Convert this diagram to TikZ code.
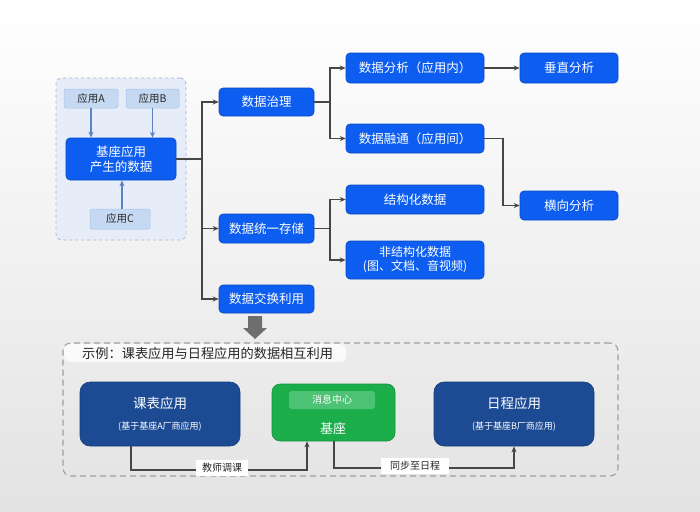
\documentclass[tikz,border=0pt]{standalone}
\usepackage{fontspec}
\setmainfont{Noto Sans CJK SC}
\usetikzlibrary{arrows.meta}
\definecolor{nodeblue}{HTML}{0D5EF0}
\definecolor{nodeblueb}{HTML}{0A48C0}
\definecolor{darkblue}{HTML}{1C4B94}
\definecolor{darkblueb}{HTML}{163C78}
\definecolor{appgreen}{HTML}{1BAE4B}
\definecolor{appgreenb}{HTML}{16903D}
\definecolor{msggreen}{HTML}{4EC274}
\definecolor{appblue}{HTML}{C6D9F2}
\definecolor{appblueb}{HTML}{A8C2E8}
\definecolor{contfill}{HTML}{E6EDF8}
\definecolor{contline}{HTML}{A8B6CE}
\definecolor{smallarrow}{HTML}{5C82C4}
\definecolor{linegray}{HTML}{464646}
\definecolor{bigarrow}{HTML}{6E6E6E}
\begin{document}
\begin{tikzpicture}[x=1pt,y=-1pt,
  bbox/.style={draw=nodeblueb,line width=0.6pt,fill=nodeblue,rounded corners=4pt,text=white,
    font=\fontsize{12.5}{15}\selectfont,inner sep=0pt,align=center},
  appbox/.style={draw=appblueb,line width=0.5pt,fill=appblue,rounded corners=2pt,text=black!85,
    font=\fontsize{10.5}{12}\selectfont,inner sep=0pt},
  container/.style={draw=contline,dashed,line width=0.8pt,fill=contfill,rounded corners=6pt},
  dashbox/.style={draw=gray!75,dash pattern=on 6pt off 4pt,line width=1.1pt,rounded corners=8pt},
  dbox/.style={draw=darkblueb,line width=0.6pt,fill=darkblue,rounded corners=10pt,text=white,inner sep=0pt,align=center},
  gbox/.style={draw=appgreenb,line width=0.6pt,fill=appgreen,rounded corners=8pt,inner sep=0pt},
  conn/.style={draw=linegray,line width=1.6pt},
  arr/.style={conn,-{Stealth[length=6pt,width=5pt]}},
  sarr/.style={draw=smallarrow,line width=1.2pt,-{Stealth[length=6pt,width=5pt]}},
  lab/.style={fill=white,text=black!85,font=\fontsize{10}{12}\selectfont,inner xsep=6pt,inner ysep=3pt}
]
\shade[top color=white,bottom color=black!11] (0,0) rectangle (700,511);
\useasboundingbox (0,0) rectangle (700,511);

% left container
\node[container,minimum width=130,minimum height=162] (lc) at (121,159) {};
\node[appbox,minimum width=54,minimum height=19] (appA) at (91,98.5) {应用A};
\node[appbox,minimum width=53,minimum height=19] (appB) at (152.5,98.5) {应用B};
\node[bbox,minimum width=110,minimum height=42,font=\fontsize{12.5}{15}\selectfont] (core) at (121,159) {基座应用\\产生的数据};
\node[appbox,minimum width=60,minimum height=20] (appC) at (120,219) {应用C};
\draw[sarr] (appA.south) -- (appA.south |- core.north);
\draw[sarr] (appB.south) -- (appB.south |- core.north);
\draw[sarr] (appC.north -| 122,0) -- (core.south -| 122,0);

% level 1
\node[bbox,minimum width=95,minimum height=28] (gov) at (266.5,102) {数据治理};
\node[bbox,minimum width=95,minimum height=29] (sto) at (266.5,228.5) {数据统一存储};
\node[bbox,minimum width=95,minimum height=28] (exc) at (266.5,299) {数据交换利用};

% level 2
\node[bbox,minimum width=138,minimum height=30] (da) at (415,68) {数据分析（应用内）};
\node[bbox,minimum width=138,minimum height=29] (dr) at (415,138.5) {数据融通（应用间）};
\node[bbox,minimum width=138,minimum height=29] (st) at (415,199.5) {结构化数据};
\node[bbox,minimum width=138,minimum height=38,font=\fontsize{12}{14}\selectfont] (un) at (415,260) {非结构化数据\\(图、文档、音视频)};

% level 3
\node[bbox,minimum width=98,minimum height=30] (vz) at (569,68) {垂直分析};
\node[bbox,minimum width=98,minimum height=29] (hz) at (569,205.5) {横向分析};

% connectors
\coordinate (t1) at (202,0);
\coordinate (t2) at (330,0);
\coordinate (t3) at (503,0);
\draw[conn] (core.east) -- (t1 |- core.east);
\draw[arr] (t1 |- core.east) |- (gov.west);
\draw[arr] (t1 |- core.east) |- (sto.west);
\draw[arr] (t1 |- core.east) |- (exc.west);
\draw[conn] (gov.east) -- (t2 |- gov.east);
\draw[arr] (t2 |- gov.east) |- (da.west);
\draw[arr] (t2 |- gov.east) |- (dr.west);
\draw[conn] (sto.east) -- (t2 |- sto.east);
\draw[arr] (t2 |- sto.east) |- (st.west);
\draw[arr] (t2 |- sto.east) |- (un.west);
\draw[arr] (da.east) -- (vz.west);
\draw[arr] (dr.east) -- (t3 |- dr.east) |- (hz.west);

% big arrow
\fill[bigarrow] (248,316) -- (262,316) -- (262,328) -- (267,328) -- (255,339) -- (243,328) -- (248,328) -- cycle;

% bottom container
\node[dashbox,minimum width=555,minimum height=133] (bc) at (340.5,409.5) {};
\fill[white,opacity=0.75,rounded corners=6pt] (64,344) rectangle (346,362);
\node[anchor=west,inner sep=0pt,font=\fontsize{13.2}{15}\selectfont,text=black!85] (title) at (82,353) {示例：课表应用与日程应用的数据相互利用};

\node[dbox,minimum width=160,minimum height=64] (kb) at (160,414)
  {{\fontsize{13.5}{15}\selectfont 课表应用}\\[9pt]{\fontsize{9}{10}\selectfont (基于基座A厂商应用)}};
\node[gbox,minimum width=123,minimum height=57] (jz) at (333.5,412.5) {};
\node[fill=msggreen,rounded corners=3pt,minimum width=86,minimum height=18,inner sep=0pt,text=white,font=\fontsize{10}{12}\selectfont] (msg) at (332,400) {消息中心};
\node[text=white,font=\fontsize{13}{15}\selectfont,inner sep=0pt] (jzt) at (333,428) {基座};
\node[dbox,minimum width=160,minimum height=64] (rc) at (514,414)
  {{\fontsize{13.5}{15}\selectfont 日程应用}\\[9pt]{\fontsize{9}{10}\selectfont (基于基座B厂商应用)}};

\coordinate (k1) at (131,470);
\coordinate (k2) at (307,470);
\draw[arr,line width=1.5pt] (kb.south -| k1) -- (k1) -- (k2) -- (jz.south -| k2);
\node[lab] (l1) at (222,468) {教师调课};
\coordinate (m1) at (334,468);
\coordinate (m2) at (514,468);
\draw[arr,line width=1.5pt] (jz.south -| m1) -- (m1) -- (m2) -- (rc.south -| m2);
\node[lab,inner xsep=9pt] (l2) at (415,466) {同步至日程};
\end{tikzpicture}
\end{document}
